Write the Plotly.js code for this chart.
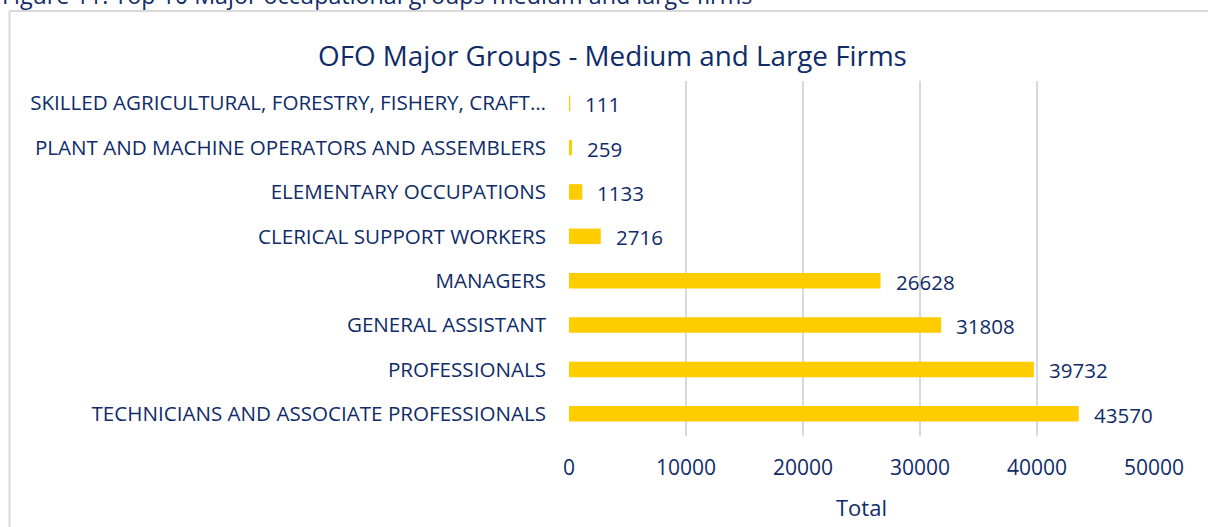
<!DOCTYPE html>
<html>
<head>
<meta charset="utf-8">
<script src="https://cdn.plot.ly/plotly-3.0.1.min.js"></script>
<style>
html,body{margin:0;padding:0;background:#fff;}
#chart{width:1208px;height:527px;}
</style>
</head>
<body>
<div id="chart"></div>
<script>
const categories = [
  "TECHNICIANS AND ASSOCIATE PROFESSIONALS",
  "PROFESSIONALS",
  "GENERAL ASSISTANT",
  "MANAGERS",
  "CLERICAL SUPPORT WORKERS",
  "ELEMENTARY OCCUPATIONS",
  "PLANT AND MACHINE OPERATORS AND ASSEMBLERS",
  "SKILLED AGRICULTURAL, FORESTRY, FISHERY, CRAFT…"
];
const totals = [43570, 39732, 31808, 26628, 2716, 1133, 259, 111];
const xTicks = [0, 10000, 20000, 30000, 40000, 50000];
const chartTitle = "OFO Major Groups - Medium and Large Firms";
const caption = "Figure 11: Top 10 Major occupational groups-medium and large firms";
const xAxisTitle = "Total";

const navy = "#0f2c68";
const font = "Open Sans, Noto Sans, sans-serif";

// plot area in pixels: x 569..1154, y 81..436
const L = 569, R = 1208 - 1154, T = 81, B = 527 - 436;
const PW = 1208 - L - R, PH = 527 - T - B;
const px = p => (p - L) / PW;
const py = p => (527 - B - p) / PH;

const trace = {
  type: "bar",
  orientation: "h",
  x: totals,
  y: categories,
  marker: {color: "#FFCC00"},
  width: 0.35,
  hoverinfo: "x+y"
};

const labelAnns = totals.map((v, i) => ({
  x: v, y: categories[i], xref: "x", yref: "y",
  text: String(v), showarrow: false,
  xanchor: "left", yanchor: "middle", xshift: 13, yshift: -1,
  font: {family: font, size: 20.5, color: navy}
}));

const layout = {
  width: 1208, height: 527,
  margin: {l: L, r: R, t: T, b: B, pad: 0},
  paper_bgcolor: "#ffffff",
  plot_bgcolor: "#ffffff",
  showlegend: false,
  title: {
    text: chartTitle,
    font: {family: font, size: 27.8, color: navy},
    x: 0.507, xanchor: "center", y: 1 - 56/527, yanchor: "middle"
  },
  xaxis: {
    range: [0, 50000],
    tickvals: xTicks,
    ticktext: xTicks.map(String),
    showgrid: true, gridcolor: "#d9d9d9", gridwidth: 2,
    zeroline: false, showline: false,
    ticks: "", ticklabelstandoff: 17,
    tickfont: {family: font, size: 21, color: navy},
    title: {text: xAxisTitle, font: {family: font, size: 22, color: navy}, standoff: 20},
    fixedrange: true
  },
  yaxis: {
    categoryorder: "array", categoryarray: categories,
    showgrid: false, zeroline: false, showline: false,
    ticks: "", ticklabelstandoff: 22,
    tickfont: {family: font, size: 20.6, color: navy},
    fixedrange: true
  },
  shapes: [
    {type: "line", xref: "paper", yref: "paper", x0: px(9.5), x1: px(1210), y0: py(11), y1: py(11),
     line: {color: "#d9d9d9", width: 2}},
    {type: "line", xref: "paper", yref: "paper", x0: px(9.5), x1: px(9.5), y0: py(11), y1: py(530),
     line: {color: "#d9d9d9", width: 2}}
  ],
  annotations: labelAnns.concat([
    {x: px(0), y: py(13), xref: "paper", yref: "paper", xanchor: "left", yanchor: "bottom",
     text: caption, showarrow: false,
     font: {family: font, size: 23.3, color: navy}}
  ])
};

Plotly.newPlot("chart", [trace], layout, {displayModeBar: false, staticPlot: true});
</script>
</body>
</html>
